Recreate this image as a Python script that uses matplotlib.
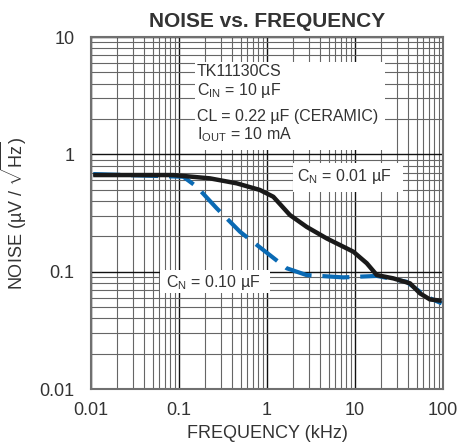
import numpy as np
import matplotlib
matplotlib.use('Agg')
import matplotlib.pyplot as plt
from matplotlib.patches import Rectangle

plt.rcParams['font.family'] = ['Liberation Sans', 'DejaVu Sans']
plt.rcParams['mathtext.fontset'] = 'custom'
plt.rcParams['mathtext.rm'] = 'Liberation Sans'
plt.rcParams['mathtext.sf'] = 'Liberation Sans'
plt.rcParams['mathtext.it'] = 'Liberation Sans'

# curva C_N = 0.01 uF (negra)
freq_001 = [0.0106, 0.086, 0.225, 0.453, 0.83, 1.18, 1.82, 2.82, 4.77, 9.57,
            13.6, 17.7, 27.2, 42.2, 54.8, 71, 96.6]
noise_001 = [0.666, 0.666, 0.624, 0.566, 0.497, 0.435, 0.304, 0.241, 0.192, 0.148,
             0.118, 0.0935, 0.0877, 0.0795, 0.0653, 0.058, 0.0565]

# curva C_N = 0.10 uF (azul, discontinua)
freq_010 = [0.0106, 0.112, 0.159, 0.268, 0.493, 0.908, 1.67, 2.82, 7.36, 17.7,
            38.6, 65.3, 96.6]
noise_010 = [0.679, 0.644, 0.53, 0.347, 0.219, 0.153, 0.107, 0.0935, 0.0894, 0.092,
             0.082, 0.061, 0.0537]

xticks = [0.01, 0.1, 1, 10, 100]
xlabels = ['0.01', '0.1', '1', '10', '100']
yticks = [0.01, 0.1, 1, 10]
ylabels = ['0.01', '0.1', '1', '10']

txt = '#333333'
fig = plt.figure(figsize=(4.6, 4.48), dpi=100)
ax = fig.add_axes([91/460, 59/448, 352/460, 352/448])

ax.set_xscale('log')
ax.set_yscale('log')
ax.set_xlim(0.01, 100)
ax.set_ylim(0.01, 10)

ax.grid(True, which='major', color='#111111', linewidth=1.0, zorder=0)
ax.grid(True, which='minor', color='#666666', linewidth=0.8, zorder=0)
ax.set_axisbelow(True)

def px(x, y):
    return ((x - 91) / 352, (389 - y) / 352)

# cajas blancas para el texto
for (x0, y0, x1, y1) in [(195, 62, 385, 150), (293, 163, 403, 192), (160, 270, 270, 293)]:
    a = px(x0, y1)
    ax.add_patch(Rectangle(a, (x1 - x0) / 352, (y1 - y0) / 352, transform=ax.transAxes,
                           facecolor='white', edgecolor='none', zorder=2))

ax.plot(freq_001, noise_001, color='#1a1a1a', linewidth=3.2, zorder=4,
        solid_capstyle='butt')
ax.plot(freq_010, noise_010, color='#0a6ab4', linewidth=3.0, zorder=3,
        dashes=(6.5, 2.6))

fs = 11.5
lines = [('TK11130CS', 72), (r'C$_{\mathrm{IN}}$ = 10 µF', 91),
         ('CL = 0.22 µF (CERAMIC)', 116), (r'I$_{\mathrm{OUT}}$ = 10 mA', 135)]
for s, y in lines:
    ax.text(*px(197, y), s, transform=ax.transAxes, fontsize=fs, color=txt,
            va='center', ha='left', zorder=5)
ax.text(*px(297, 177), r'C$_{\mathrm{N}}$ = 0.01 µF', transform=ax.transAxes,
        fontsize=fs, color=txt, va='center', ha='left', zorder=5)
ax.text(*px(166, 283), r'C$_{\mathrm{N}}$ = 0.10 µF', transform=ax.transAxes,
        fontsize=fs, color=txt, va='center', ha='left', zorder=5)

ax.set_xticks(xticks)
ax.set_xticklabels(xlabels)
ax.set_yticks(yticks)
ax.set_yticklabels(ylabels)
ax.tick_params(which='both', length=0, labelsize=13, labelcolor=txt)
ax.tick_params(axis='x', pad=9)
ax.tick_params(axis='y', pad=12)

for s in ax.spines.values():
    s.set_color('#707070')
    s.set_linewidth(1.5)

ax.set_xlabel('FREQUENCY (kHz)', fontsize=13, color=txt, labelpad=5)
ax.set_ylabel(r'NOISE (µV / $\sqrt{\mathrm{Hz}}$)', fontsize=13, color=txt, labelpad=7)
ax.set_title('NOISE vs. FREQUENCY', fontsize=15, fontweight='bold', color=txt, pad=7)

fig.savefig('out.png', dpi=100)
